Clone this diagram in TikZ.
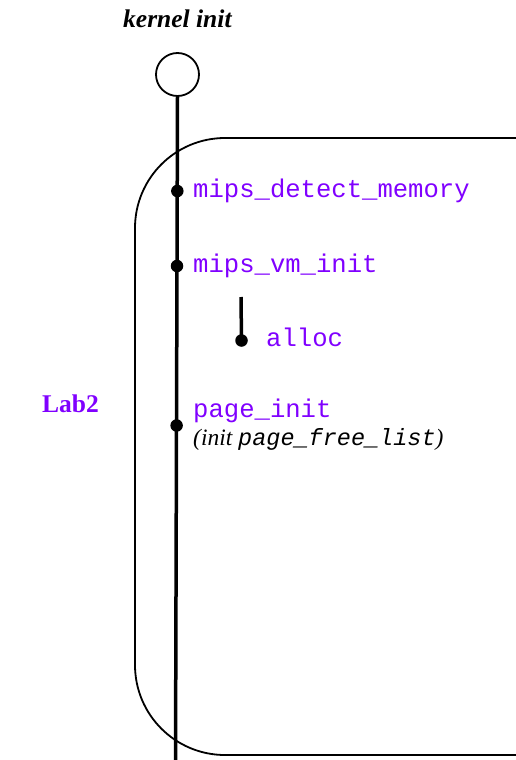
\documentclass[tikz,border=0pt]{standalone}
\usepackage{fontspec}
\setmainfont{Liberation Serif}
\setmonofont{Liberation Mono}
\definecolor{lab}{RGB}{128,0,255}
\begin{document}
\begin{tikzpicture}[x=1pt,y=-1pt,
  fn/.style={font=\fontsize{25.6}{28}\selectfont\ttfamily, text=lab, anchor=base west, inner sep=0pt},
  dotc/.style={circle, fill=black, minimum size=12.5pt, inner sep=0pt},
  thick line/.style={line width=3.5pt}]
\useasboundingbox (0,0) rectangle (516,760);
% Lab2 box
\draw[line width=1.8pt, rounded corners=90pt] (520,138) -- (135,138) -- (135,755) -- (520,755);
% start circle
\node[circle, draw, line width=1.8pt, minimum size=43pt, inner sep=0pt] (start) at (177.5,74.5) {};
\node[font=\fontsize{25.5}{28}\selectfont\bfseries\itshape, anchor=base west, inner sep=0pt] (title) at (123,28) {kernel init};
\coordinate (bottom) at (175.5,762);
\draw[thick line] (start.south) -- (bottom);
% dots
\node[dotc] (d1) at (177.3,191) {};
\node[dotc] (d2) at (177.0,266) {};
\node[dotc] (d3) at (176.6,425.5) {};
\coordinate (atop) at (241,297);
\node[dotc] (d4) at (241.5,340.5) {};
\draw[thick line] (atop) -- (d4.center);
% labels
\node[fn] (t1) at (193,197) {mips\_detect\_memory};
\node[fn] (t2) at (193,272) {mips\_vm\_init};
\node[fn] (t3) at (266,346) {alloc};
\node[fn] (t4) at (193,417) {page\_init};
\node[font=\fontsize{23.5}{26}\selectfont\itshape, anchor=base west, inner sep=0pt] (t5) at (193,445) {(init {\ttfamily page\_free\_list})};
\node[font=\fontsize{25.5}{28}\selectfont\bfseries, text=lab, anchor=base west, inner sep=0pt] (lab) at (42,412) {Lab2};
\end{tikzpicture}
\end{document}
